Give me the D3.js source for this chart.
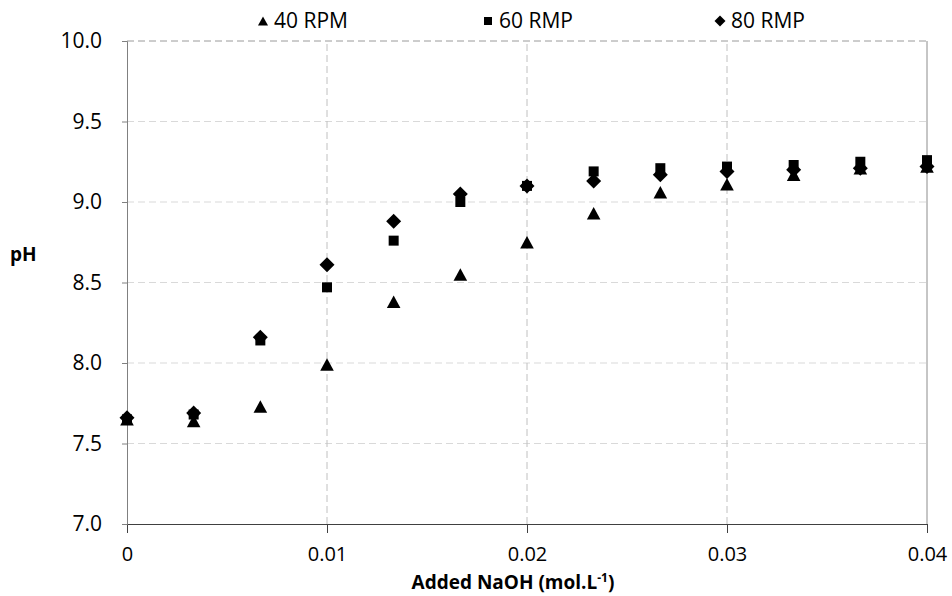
<!DOCTYPE html>
<html><head><meta charset="utf-8">
<script src="https://cdn.jsdelivr.net/npm/d3@7/dist/d3.min.js"></script>
<style>body{margin:0;background:#fff;} svg{display:block;} text{font-family:"Open Sans","Noto Sans",sans-serif;}</style>
</head><body>
<script>
const naoh = [0, 0.003333, 0.006667, 0.01, 0.013333, 0.016667, 0.02, 0.023333, 0.026667, 0.03, 0.033333, 0.036667, 0.04];
const rpm40 = [7.65, 7.64, 7.73, 7.99, 8.38, 8.55, 8.75, 8.93, 9.06, 9.11, 9.17, 9.21, 9.22];
const rmp60 = [7.65, 7.68, 8.14, 8.47, 8.76, 9.00, 9.10, 9.19, 9.21, 9.22, 9.23, 9.25, 9.26];
const rmp80 = [7.66, 7.69, 8.16, 8.61, 8.88, 9.05, 9.10, 9.13, 9.17, 9.19, 9.20, 9.21, 9.22];
const seriesNames = ["40 RPM", "60 RMP", "80 RMP"];
const xTicks = [0, 0.01, 0.02, 0.03, 0.04];
const yTicks = [7.0, 7.5, 8.0, 8.5, 9.0, 9.5, 10.0];

const W = 952, H = 596;
const m = {l: 127, r: 25, t: 41, b: 72};
const svg = d3.select("body").append("svg").attr("width", W).attr("height", H);
const x = d3.scaleLinear().domain([0, 0.04]).range([m.l, W - m.r]);
const y = d3.scaleLinear().domain([7, 10]).range([H - m.b, m.t]);

// gridlines
const g = svg.append("g");
g.selectAll(".hg").data(yTicks.filter(v => v > 7)).join("line")
  .attr("x1", x(0)).attr("x2", x(0.04)).attr("y1", d => y(d)).attr("y2", d => y(d))
  .attr("stroke", d => d === 10 ? "#9a9a9a" : "#d9d9d9").attr("stroke-width", 1).attr("stroke-dasharray", "7,4");
g.selectAll(".vg").data(xTicks.filter(v => v > 0 && v < 0.04)).join("line")
  .attr("x1", d => x(d)).attr("x2", d => x(d)).attr("y1", y(7)).attr("y2", y(10))
  .attr("stroke", "#c0c0c0").attr("stroke-width", 1).attr("stroke-dasharray", "7,4");
g.append("line").attr("x1", x(0.04)).attr("x2", x(0.04)).attr("y1", y(7)).attr("y2", y(10))
  .attr("stroke", "#8c8c8c").attr("stroke-width", 1);

// axes
const xa = svg.append("g").attr("transform", `translate(0,${y(7)})`)
  .call(d3.axisBottom(x).tickValues(xTicks).tickSize(9).tickPadding(14).tickFormat(d => d === 0 ? "0" : d3.format(".2f")(d)));
xa.select(".domain").attr("stroke", "#404040");
xa.selectAll(".tick line").attr("stroke", "#404040");
xa.selectAll("text").attr("font-size", 20).attr("fill", "#000").attr("font-family", "'Open Sans',sans-serif");

const ya = svg.append("g").attr("transform", `translate(${x(0)},0)`)
  .call(d3.axisLeft(y).tickValues(yTicks).tickSize(5).tickPadding(20).tickFormat(d3.format(".1f")));
ya.select(".domain").attr("stroke", "#808080");
ya.selectAll(".tick line").attr("stroke", "#808080");
ya.selectAll("text").attr("font-size", 21).attr("fill", "#000").attr("font-family", "'Open Sans',sans-serif");

// axis titles
const xt = svg.append("text").attr("x", 513).attr("y", 589).attr("text-anchor", "middle")
  .attr("font-size", 19).attr("font-weight", "bold").attr("fill", "#000");
xt.append("tspan").text("Added NaOH (mol.L");
xt.append("tspan").text("-1").attr("font-size", 12).attr("dy", -7);
xt.append("tspan").text(")").attr("dy", 7);
svg.append("text").attr("x", 10).attr("y", 261).attr("font-size", 19).attr("font-weight", "bold").attr("fill", "#000").text("pH");

// custom marker shapes (size = half-extent)
const triType = {draw(c, s) { c.moveTo(0, -s * 0.92); c.lineTo(s, s * 0.92); c.lineTo(-s, s * 0.92); c.closePath(); }};
const sqType = {draw(c, s) { c.rect(-s, -s, 2 * s, 2 * s); }};
const diaType = {draw(c, s) { c.moveTo(0, -s); c.lineTo(s, 0); c.lineTo(0, s); c.lineTo(-s, 0); c.closePath(); }};
const symbols = [triType, sqType, diaType];
const sizes = [6.8, 5, 7.5];
const legSizes = [5, 4, 5.5];
const data = [rpm40, rmp60, rmp80];
data.forEach((vals, i) => {
  svg.append("g").selectAll("path").data(vals).join("path")
    .attr("d", d3.symbol().type(symbols[i]).size(sizes[i]))
    .attr("transform", (d, j) => `translate(${x(naoh[j])},${y(d)})`)
    .attr("fill", "#000");
});

// legend
const legX = [263, 488, 720];
seriesNames.forEach((n, i) => {
  svg.append("path").attr("d", d3.symbol().type(symbols[i]).size(legSizes[i]))
    .attr("transform", `translate(${legX[i]},21)`).attr("fill", "#000");
  svg.append("text").attr("x", legX[i] + 11).attr("y", 28).attr("font-size", 21).attr("fill", "#000").text(n);
});
</script>
</body></html>
